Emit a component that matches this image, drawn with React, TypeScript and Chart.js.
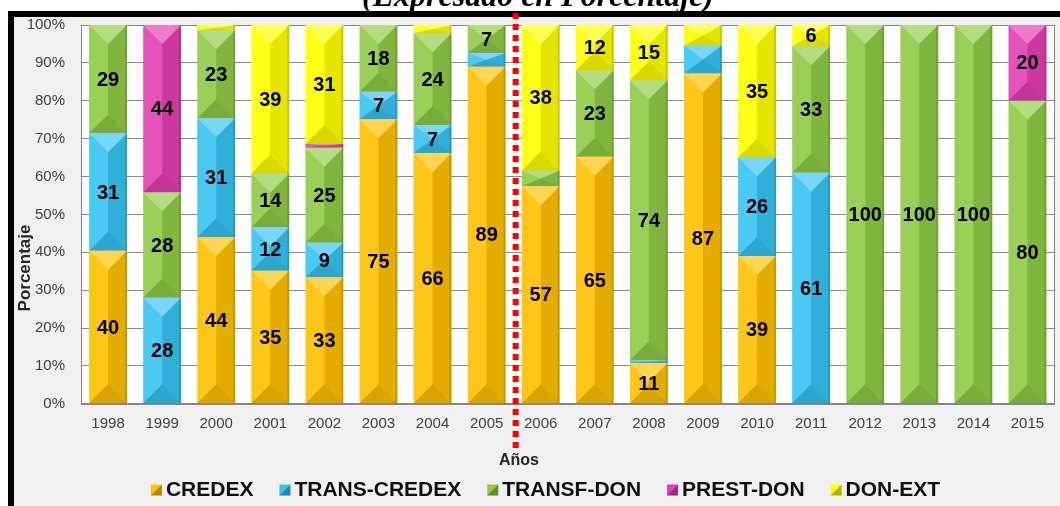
import React, { useEffect, useRef } from "react";
import { Chart, registerables } from "chart.js";

Chart.register(...registerables);

// ---------- DATA ----------
const years = [
  "1998", "1999", "2000", "2001", "2002", "2003", "2004", "2005", "2006",
  "2007", "2008", "2009", "2010", "2011", "2012", "2013", "2014", "2015",
];
const credex = [40.4, 0, 44.0, 35.1, 33.4, 75.1, 66.2, 89.0, 57.4, 65.2, 10.8, 87.2, 39.0, 0, 0, 0, 0, 0];
const transCredex = [31.0, 28.0, 31.4, 11.5, 9.1, 7.3, 7.4, 3.6, 0, 0, 0.7, 7.4, 26.0, 61.0, 0, 0, 0, 0];
const transfDon = [28.6, 27.8, 23.2, 14.2, 25.1, 17.6, 24.2, 7.4, 4.2, 22.8, 73.9, 0, 0, 33.4, 100, 100, 100, 80];
const prestDon = [0, 44.2, 0, 0, 1.0, 0, 0, 0, 0, 0, 0, 0, 0, 0, 0, 0, 0, 20];
const donExt = [0, 0, 1.4, 39.2, 31.4, 0, 2.2, 0, 38.4, 12.0, 14.6, 5.4, 35.0, 5.6, 0, 0, 0, 0];

const seriesNames = ["CREDEX", "TRANS-CREDEX", "TRANSF-DON", "PREST-DON", "DON-EXT"];
const seriesColors = ["#FFC000", "#36C3F2", "#8FCB45", "#E23FB2", "#FFFF00"];
const yTickValues = [0, 10, 20, 30, 40, 50, 60, 70, 80, 90, 100];

const chartTitle = "(Expresado en Porcentaje)";
const xTitle = "Años";
const yTitle = "Porcentaje";
const labelMin = 5.5;
const unlabeled: [string, string][] = [["2009", "TRANS-CREDEX"]];
const dividerAfter = "2005";

// ---------- PLUGINS ----------
const poly = (ctx: CanvasRenderingContext2D, pts: number[][], fill: string) => {
  ctx.beginPath();
  ctx.moveTo(pts[0][0], pts[0][1]);
  for (let k = 1; k < pts.length; k++) ctx.lineTo(pts[k][0], pts[k][1]);
  ctx.closePath();
  ctx.fillStyle = fill;
  ctx.fill();
};

const backgroundPlugin = {
  id: "bgFrame",
  beforeDraw(chart: any) {
    const { ctx, width, height, chartArea } = chart;
    ctx.save();
    ctx.fillStyle = "#ffffff";
    ctx.fillRect(0, 0, width, height);
    ctx.fillStyle = "#f0f0f0";
    ctx.fillRect(8, 11, width - 8, height - 11);
    ctx.fillStyle = "#ffffff";
    ctx.fillRect(chartArea.left, chartArea.top, chartArea.right - chartArea.left, chartArea.bottom - chartArea.top);
    ctx.restore();
  },
  beforeDatasetsDraw(chart: any) {
    const { ctx, chartArea } = chart;
    ctx.save();
    ctx.strokeStyle = "#868686";
    ctx.lineWidth = 1;
    ctx.strokeRect(
      Math.round(chartArea.left) + 0.5,
      Math.round(chartArea.top) + 0.5,
      Math.round(chartArea.right - chartArea.left) - 1,
      Math.round(chartArea.bottom - chartArea.top)
    );
    ctx.restore();
  },
};

const bevelPlugin = {
  id: "bevel",
  afterDatasetsDraw(chart: any) {
    const ctx: CanvasRenderingContext2D = chart.ctx;
    chart.data.datasets.forEach((ds: any, di: number) => {
      const meta = chart.getDatasetMeta(di);
      meta.data.forEach((el: any, i: number) => {
        const v = ds.data[i];
        if (!v) return;
        const { x, y, base, width } = el.getProps(["x", "y", "base", "width"], true);
        const T = Math.min(y, base);
        const B = Math.max(y, base);
        const L = x - width / 2;
        const R = x + width / 2;
        const h = B - T;
        if (h < 0.5) return;
        const d = Math.min(width / 2, h / 2);
        ctx.save();
        poly(ctx, [[L, T], [x, T + d], [x, B - d], [L, B]], "rgba(255,255,255,0.10)");
        poly(ctx, [[R, T], [x, T + d], [x, B - d], [R, B]], "rgba(0,0,0,0.10)");
        poly(ctx, [[L, T], [R, T], [x, T + d]], "rgba(255,255,255,0.33)");
        poly(ctx, [[L, B], [R, B], [x, B - d]], "rgba(0,0,0,0.15)");
        ctx.fillStyle = "rgba(0,0,0,0.12)";
        ctx.fillRect(R - 2, T, 2, h);
        ctx.restore();
      });
    });

    // value labels
    ctx.save();
    ctx.font = "bold 20px 'Liberation Sans', Arial, sans-serif";
    ctx.fillStyle = "#000000";
    ctx.textAlign = "center";
    ctx.textBaseline = "middle";
    chart.data.datasets.forEach((ds: any, di: number) => {
      const meta = chart.getDatasetMeta(di);
      meta.data.forEach((el: any, i: number) => {
        const v = ds.data[i];
        if (!v || v < labelMin) return;
        const yr = chart.data.labels[i];
        if (unlabeled.some(([a, b]) => a === yr && b === ds.label)) return;
        const { x, y, base } = el.getProps(["x", "y", "base"], true);
        ctx.fillText(String(Math.round(v)), x, (y + base) / 2 + 1);
      });
    });
    ctx.restore();
  },
};

const decorPlugin = {
  id: "decor",
  afterDraw(chart: any) {
    const { ctx, width, height } = chart;
    const xs = chart.scales.x;
    ctx.save();

    // title (partly clipped at top)
    ctx.font = "italic bold 32px 'Liberation Serif', 'Times New Roman', serif";
    ctx.fillStyle = "#000000";
    ctx.textAlign = "center";
    ctx.textBaseline = "alphabetic";
    ctx.fillText(chartTitle, 538, 6);

    // black frame
    ctx.fillStyle = "#000000";
    ctx.fillRect(8, 11, width - 8, 6);
    ctx.fillRect(8, 11, 6, height - 11);

    // axis titles
    ctx.fillStyle = "#262626";
    ctx.font = "bold 16px 'Liberation Sans', Arial, sans-serif";
    ctx.textAlign = "center";
    ctx.textBaseline = "middle";
    ctx.fillText(xTitle, 519, 461);
    ctx.save();
    ctx.translate(25, 268);
    ctx.rotate(-Math.PI / 2);
    ctx.font = "bold 17px 'Liberation Sans', Arial, sans-serif";
    ctx.fillText(yTitle, 0, 0);
    ctx.restore();

    // red dotted divider
    const idx = years.indexOf(dividerAfter);
    const dx = (xs.getPixelForValue(idx) + xs.getPixelForValue(idx + 1)) / 2 + 2;
    ctx.strokeStyle = "#ff0000";
    ctx.lineWidth = 6;
    ctx.setLineDash([6, 5]);
    ctx.beginPath();
    ctx.moveTo(dx, 13);
    ctx.lineTo(dx, 452);
    ctx.stroke();
    ctx.setLineDash([]);

    // legend
    ctx.font = "bold 21px 'Liberation Sans', Arial, sans-serif";
    ctx.textAlign = "left";
    ctx.textBaseline = "middle";
    const box = 11;
    const gapBoxText = 4;
    const gapItems = 26;
    const ds = chart.data.datasets;
    const widths = ds.map((d: any) => ctx.measureText(d.label).width);
    const total = widths.reduce((a: number, b: number) => a + b + box + gapBoxText, 0) + gapItems * (ds.length - 1);
    let lx = 545.5 - total / 2;
    const ly = 490;
    ds.forEach((d: any, k: number) => {
      const c = d.backgroundColor;
      ctx.fillStyle = c;
      ctx.fillRect(lx, ly - box / 2, box, box);
      poly(ctx, [[lx, ly + box / 2], [lx + box, ly + box / 2], [lx + box, ly - box / 2]], "rgba(0,0,0,0.3)");
      ctx.fillStyle = "#111111";
      ctx.fillText(d.label, lx + box + gapBoxText, ly);
      lx += box + gapBoxText + widths[k] + gapItems;
    });

    ctx.restore();
  },
};

// ---------- COMPONENT ----------
export default function App() {
  const ref = useRef<HTMLCanvasElement | null>(null);

  useEffect(() => {
    if (!ref.current) return;
    const values = [credex, transCredex, transfDon, prestDon, donExt];
    const chart = new Chart(ref.current, {
      type: "bar",
      data: {
        labels: years,
        datasets: seriesNames.map((name, k) => ({
          label: name,
          data: values[k],
          backgroundColor: seriesColors[k],
          borderWidth: 0,
          barPercentage: 0.7,
          categoryPercentage: 1.0,
        })),
      },
      options: {
        responsive: false,
        animation: false,
        devicePixelRatio: 1,
        layout: { padding: { left: 14, right: 5.5, top: 22.6, bottom: 0 } },
        plugins: {
          legend: { display: false },
          title: { display: false },
          tooltip: { enabled: false },
        },
        scales: {
          x: {
            stacked: true,
            grid: { display: false, drawTicks: false },
            border: { display: true, color: "#868686" },
            ticks: {
              autoSkip: false,
              maxRotation: 0,
              padding: 11,
              color: "#404040",
              font: { family: "'Liberation Sans', Arial, sans-serif", size: 15 },
            },
            afterFit: (s: any) => {
              s.height = 102.2;
            },
          },
          y: {
            stacked: true,
            min: 0,
            max: 100,
            afterBuildTicks: (s: any) => {
              s.ticks = yTickValues.map((v) => ({ value: v }));
            },
            grid: { color: "#8a8a8a", lineWidth: 1, drawTicks: false },
            border: { display: true, color: "#868686" },
            ticks: {
              padding: 16,
              color: "#404040",
              font: { family: "'Liberation Sans', Arial, sans-serif", size: 15 },
              callback: (v: any) => v + "%",
            },
            afterFit: (s: any) => {
              s.width = 67;
            },
          },
        },
      },
      plugins: [backgroundPlugin, bevelPlugin, decorPlugin],
    });
    return () => chart.destroy();
  }, []);

  return (
    <div style={{ position: "absolute", left: 0, top: 0, width: 1060, height: 506 }}>
      <canvas ref={ref} width={1060} height={506} style={{ display: "block" }} />
    </div>
  );
}
